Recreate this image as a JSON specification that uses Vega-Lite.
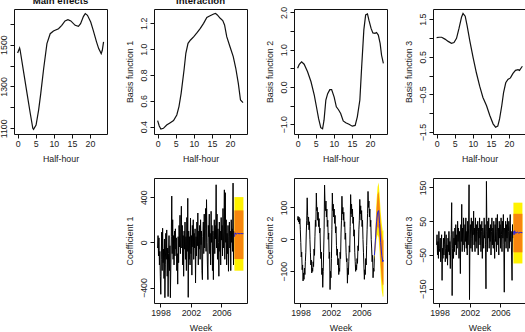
{
  "$schema": "https://vega.github.io/schema/vega-lite/v6.json",
  "background": "white",
  "padding": {"left": -1, "top": -5, "right": 0, "bottom": 0},
  "columns": 4,
  "spacing": {"column": 16, "row": 13},
  "datasets": {
    "main": [
      {"h": 0, "v": 1460}, {"h": 0.55, "v": 1484}, {"h": 0.7, "v": 1473}, {"h": 1.65, "v": 1370},
      {"h": 2.6, "v": 1267}, {"h": 3.5, "v": 1171}, {"h": 4.2, "v": 1100}, {"h": 4.4, "v": 1095},
      {"h": 5.1, "v": 1116}, {"h": 5.8, "v": 1187}, {"h": 6.4, "v": 1267}, {"h": 7.2, "v": 1386},
      {"h": 8.1, "v": 1505}, {"h": 9.0, "v": 1552}, {"h": 9.9, "v": 1565}, {"h": 11.3, "v": 1576},
      {"h": 12.2, "v": 1592}, {"h": 13.1, "v": 1613}, {"h": 13.9, "v": 1619}, {"h": 14.7, "v": 1613},
      {"h": 15.9, "v": 1592}, {"h": 16.8, "v": 1587}, {"h": 17.4, "v": 1600}, {"h": 18.2, "v": 1635},
      {"h": 18.7, "v": 1648}, {"h": 19.3, "v": 1640}, {"h": 20.2, "v": 1608}, {"h": 20.9, "v": 1568},
      {"h": 21.8, "v": 1513}, {"h": 22.4, "v": 1481}, {"h": 23.1, "v": 1457}, {"h": 23.4, "v": 1473},
      {"h": 23.75, "v": 1513}
    ],
    "basis1": [
      {"h": 0, "v": 0.447}, {"h": 0.45, "v": 0.405}, {"h": 0.9, "v": 0.382}, {"h": 1.6, "v": 0.387},
      {"h": 2.5, "v": 0.413}, {"h": 3.5, "v": 0.431}, {"h": 4.4, "v": 0.447}, {"h": 5.3, "v": 0.49},
      {"h": 5.9, "v": 0.555}, {"h": 6.5, "v": 0.658}, {"h": 7.3, "v": 0.839}, {"h": 7.8, "v": 0.968},
      {"h": 8.4, "v": 1.045}, {"h": 9.1, "v": 1.071}, {"h": 10.0, "v": 1.097}, {"h": 10.9, "v": 1.128},
      {"h": 11.8, "v": 1.161}, {"h": 12.7, "v": 1.2}, {"h": 13.6, "v": 1.246}, {"h": 14.5, "v": 1.259},
      {"h": 15.5, "v": 1.272}, {"h": 16.0, "v": 1.277}, {"h": 16.5, "v": 1.265}, {"h": 17.3, "v": 1.239},
      {"h": 18.0, "v": 1.221}, {"h": 18.5, "v": 1.187}, {"h": 19.1, "v": 1.097}, {"h": 20.0, "v": 1.019},
      {"h": 20.9, "v": 0.942}, {"h": 21.6, "v": 0.852}, {"h": 22.3, "v": 0.735}, {"h": 22.9, "v": 0.606},
      {"h": 23.6, "v": 0.586}
    ],
    "basis2": [
      {"h": 0, "v": 0.5}, {"h": 0.46, "v": 0.61}, {"h": 1.1, "v": 0.675}, {"h": 1.8, "v": 0.61},
      {"h": 2.75, "v": 0.41}, {"h": 3.7, "v": 0.14}, {"h": 4.6, "v": -0.22}, {"h": 5.2, "v": -0.53},
      {"h": 5.8, "v": -0.85}, {"h": 6.4, "v": -1.09}, {"h": 6.9, "v": -1.12}, {"h": 7.3, "v": -0.89},
      {"h": 7.8, "v": -0.35}, {"h": 8.3, "v": -0.18}, {"h": 8.9, "v": -0.07}, {"h": 9.4, "v": -0.07},
      {"h": 10.1, "v": -0.27}, {"h": 10.7, "v": -0.53}, {"h": 11.3, "v": -0.61}, {"h": 11.9, "v": -0.71},
      {"h": 12.6, "v": -0.91}, {"h": 13.3, "v": -0.96}, {"h": 14.2, "v": -1.0}, {"h": 15.1, "v": -1.05},
      {"h": 15.9, "v": -1.03}, {"h": 16.5, "v": -0.8}, {"h": 17.2, "v": -0.35}, {"h": 17.7, "v": 0.54},
      {"h": 18.3, "v": 1.53}, {"h": 18.8, "v": 1.93}, {"h": 19.3, "v": 1.96}, {"h": 19.7, "v": 1.79},
      {"h": 20.3, "v": 1.57}, {"h": 20.8, "v": 1.45}, {"h": 21.4, "v": 1.44}, {"h": 21.8, "v": 1.46},
      {"h": 22.3, "v": 1.39}, {"h": 22.8, "v": 1.17}, {"h": 23.2, "v": 0.85}, {"h": 23.7, "v": 0.63}
    ],
    "basis3": [
      {"h": 0, "v": 1.01}, {"h": 0.7, "v": 1.02}, {"h": 1.4, "v": 1.02}, {"h": 2.3, "v": 0.97},
      {"h": 3.2, "v": 0.91}, {"h": 4.1, "v": 0.86}, {"h": 4.8, "v": 0.88}, {"h": 5.5, "v": 0.99},
      {"h": 6.2, "v": 1.26}, {"h": 6.9, "v": 1.56}, {"h": 7.3, "v": 1.65}, {"h": 7.9, "v": 1.58},
      {"h": 8.4, "v": 1.34}, {"h": 9.2, "v": 0.91}, {"h": 10.1, "v": 0.47}, {"h": 11.0, "v": 0.07},
      {"h": 11.9, "v": -0.28}, {"h": 12.8, "v": -0.58}, {"h": 13.8, "v": -0.8}, {"h": 14.7, "v": -1.06},
      {"h": 15.6, "v": -1.28}, {"h": 16.3, "v": -1.37}, {"h": 16.9, "v": -1.34}, {"h": 17.4, "v": -1.15},
      {"h": 18.0, "v": -0.8}, {"h": 18.5, "v": -0.45}, {"h": 19.1, "v": -0.19}, {"h": 19.7, "v": -0.1},
      {"h": 20.4, "v": -0.06}, {"h": 21.1, "v": 0.06}, {"h": 21.8, "v": 0.14}, {"h": 22.5, "v": 0.16},
      {"h": 22.9, "v": 0.14}, {"h": 23.4, "v": 0.21}, {"h": 23.7, "v": 0.25}
    ],
    "series": [
      {"t": 1997.62, "a": -50, "b": 60, "c": -20},
      {"t": 1997.68, "a": 60, "b": 72, "c": 10},
      {"t": 1997.74, "a": -120, "b": 55, "c": -50},
      {"t": 1997.80, "a": 40, "b": 70, "c": -10},
      {"t": 1997.86, "a": -200, "b": 48, "c": -60},
      {"t": 1997.92, "a": -80, "b": 65, "c": 20},
      {"t": 1997.98, "a": -300, "b": 30, "c": -30},
      {"t": 1998.04, "a": -460, "b": -10, "c": -40},
      {"t": 1998.10, "a": -150, "b": -55, "c": 0},
      {"t": 1998.16, "a": 90, "b": -40, "c": -70},
      {"t": 1998.22, "a": -250, "b": -95, "c": -20},
      {"t": 1998.28, "a": 125, "b": -80, "c": 10},
      {"t": 1998.34, "a": -180, "b": -130, "c": -125},
      {"t": 1998.40, "a": -60, "b": -105, "c": -30},
      {"t": 1998.46, "a": -320, "b": -125, "c": -60},
      {"t": 1998.52, "a": 30, "b": -90, "c": 0},
      {"t": 1998.58, "a": -490, "b": -110, "c": -50},
      {"t": 1998.64, "a": -200, "b": -70, "c": -20},
      {"t": 1998.70, "a": 80, "b": -40, "c": 20},
      {"t": 1998.76, "a": -150, "b": 20, "c": -70},
      {"t": 1998.82, "a": 110, "b": 60, "c": -30},
      {"t": 1998.88, "a": -300, "b": 130, "c": 10},
      {"t": 1998.94, "a": -50, "b": 75, "c": -60},
      {"t": 1999.00, "a": -480, "b": 45, "c": -20},
      {"t": 1999.06, "a": -100, "b": 70, "c": -80},
      {"t": 1999.12, "a": 60, "b": 30, "c": 0},
      {"t": 1999.18, "a": -250, "b": 55, "c": -40},
      {"t": 1999.24, "a": -30, "b": 0, "c": 20},
      {"t": 1999.30, "a": -490, "b": -40, "c": -50},
      {"t": 1999.36, "a": -200, "b": -80, "c": -10},
      {"t": 1999.42, "a": 50, "b": -65, "c": -90},
      {"t": 1999.48, "a": 410, "b": -105, "c": -20},
      {"t": 1999.54, "a": -100, "b": -90, "c": 10},
      {"t": 1999.60, "a": 200, "b": -100, "c": 105},
      {"t": 1999.66, "a": -150, "b": -70, "c": -170},
      {"t": 1999.72, "a": 60, "b": -85, "c": -30},
      {"t": 1999.78, "a": -200, "b": -30, "c": 20},
      {"t": 1999.84, "a": 100, "b": -50, "c": -60},
      {"t": 1999.90, "a": -120, "b": 10, "c": 0},
      {"t": 1999.96, "a": 120, "b": 60, "c": -40},
      {"t": 2000.02, "a": -60, "b": 40, "c": 30},
      {"t": 2000.08, "a": 40, "b": 145, "c": -20},
      {"t": 2000.14, "a": -250, "b": 90, "c": 40},
      {"t": 2000.20, "a": -100, "b": 100, "c": -50},
      {"t": 2000.26, "a": -370, "b": 60, "c": 10},
      {"t": 2000.32, "a": 50, "b": 85, "c": -30},
      {"t": 2000.38, "a": -180, "b": 40, "c": 50},
      {"t": 2000.44, "a": 150, "b": 65, "c": -10},
      {"t": 2000.50, "a": -40, "b": 20, "c": 30},
      {"t": 2000.56, "a": 240, "b": 35, "c": -60},
      {"t": 2000.62, "a": -100, "b": -30, "c": 20},
      {"t": 2000.68, "a": 120, "b": -60, "c": -20},
      {"t": 2000.74, "a": 320, "b": -40, "c": -105},
      {"t": 2000.80, "a": -50, "b": -110, "c": 40},
      {"t": 2000.86, "a": 150, "b": -90, "c": -10},
      {"t": 2000.92, "a": -200, "b": -150, "c": 100},
      {"t": 2000.98, "a": 60, "b": -100, "c": -40},
      {"t": 2001.04, "a": -300, "b": -40, "c": 30},
      {"t": 2001.10, "a": 100, "b": 30, "c": -20},
      {"t": 2001.16, "a": -60, "b": 170, "c": 60},
      {"t": 2001.22, "a": 180, "b": 110, "c": 0},
      {"t": 2001.28, "a": -150, "b": 90, "c": -40},
      {"t": 2001.34, "a": 50, "b": 120, "c": 40},
      {"t": 2001.40, "a": -250, "b": 70, "c": -10},
      {"t": 2001.46, "a": 220, "b": 95, "c": 60},
      {"t": 2001.52, "a": -80, "b": 40, "c": -30},
      {"t": 2001.58, "a": 390, "b": 60, "c": 20},
      {"t": 2001.64, "a": -487, "b": 0, "c": -50},
      {"t": 2001.70, "a": 100, "b": 20, "c": 50},
      {"t": 2001.76, "a": -150, "b": -60, "c": -20},
      {"t": 2001.82, "a": 50, "b": -40, "c": 30},
      {"t": 2001.88, "a": -200, "b": -157, "c": 158},
      {"t": 2001.94, "a": 215, "b": -100, "c": -182},
      {"t": 2002.00, "a": -100, "b": -120, "c": 10},
      {"t": 2002.06, "a": 60, "b": -60, "c": 40},
      {"t": 2002.12, "a": -290, "b": 30, "c": -30},
      {"t": 2002.18, "a": 150, "b": 145, "c": 60},
      {"t": 2002.24, "a": -40, "b": 90, "c": 0},
      {"t": 2002.30, "a": 200, "b": 110, "c": -40},
      {"t": 2002.36, "a": -150, "b": 70, "c": 50},
      {"t": 2002.42, "a": 80, "b": 95, "c": 10},
      {"t": 2002.48, "a": -50, "b": 50, "c": 80},
      {"t": 2002.54, "a": 120, "b": 75, "c": -20},
      {"t": 2002.60, "a": -360, "b": 20, "c": 30},
      {"t": 2002.66, "a": 50, "b": 40, "c": -40},
      {"t": 2002.72, "a": -120, "b": -20, "c": 60},
      {"t": 2002.78, "a": 180, "b": -50, "c": -10},
      {"t": 2002.84, "a": -30, "b": -30, "c": 40},
      {"t": 2002.90, "a": 260, "b": -80, "c": -30},
      {"t": 2002.96, "a": -200, "b": -60, "c": 20},
      {"t": 2003.02, "a": 100, "b": -110, "c": 50},
      {"t": 2003.08, "a": -60, "b": -90, "c": -50},
      {"t": 2003.14, "a": 150, "b": -100, "c": 30},
      {"t": 2003.20, "a": -150, "b": -40, "c": 0},
      {"t": 2003.26, "a": 200, "b": -60, "c": 60},
      {"t": 2003.32, "a": -20, "b": 20, "c": -20},
      {"t": 2003.38, "a": 100, "b": 60, "c": 40},
      {"t": 2003.44, "a": -250, "b": 135, "c": -40},
      {"t": 2003.50, "a": -330, "b": 80, "c": 20},
      {"t": 2003.56, "a": 50, "b": 100, "c": 50},
      {"t": 2003.62, "a": 180, "b": 60, "c": -60},
      {"t": 2003.68, "a": -100, "b": 85, "c": 30},
      {"t": 2003.74, "a": 250, "b": 40, "c": 10},
      {"t": 2003.80, "a": -50, "b": 55, "c": -30},
      {"t": 2003.86, "a": 120, "b": 0, "c": 60},
      {"t": 2003.92, "a": 300, "b": 20, "c": 0},
      {"t": 2003.98, "a": -80, "b": -40, "c": 40},
      {"t": 2004.04, "a": 378, "b": -70, "c": -20},
      {"t": 2004.10, "a": 0, "b": -60, "c": -150},
      {"t": 2004.16, "a": -200, "b": -137, "c": 168},
      {"t": 2004.22, "a": -330, "b": -90, "c": 20},
      {"t": 2004.28, "a": 150, "b": -110, "c": -40},
      {"t": 2004.34, "a": 50, "b": -70, "c": 50},
      {"t": 2004.40, "a": 250, "b": -20, "c": 0},
      {"t": 2004.46, "a": -100, "b": -40, "c": 60},
      {"t": 2004.52, "a": 80, "b": 40, "c": -30},
      {"t": 2004.58, "a": -200, "b": 140, "c": 30},
      {"t": 2004.64, "a": 275, "b": 80, "c": -10},
      {"t": 2004.70, "a": 0, "b": 110, "c": 40},
      {"t": 2004.76, "a": 150, "b": 70, "c": -50},
      {"t": 2004.82, "a": -250, "b": 95, "c": 20},
      {"t": 2004.88, "a": 100, "b": 50, "c": 60},
      {"t": 2004.94, "a": -330, "b": 70, "c": -20},
      {"t": 2005.00, "a": 60, "b": 10, "c": 30},
      {"t": 2005.06, "a": 200, "b": 30, "c": -30},
      {"t": 2005.12, "a": -100, "b": -40, "c": 50},
      {"t": 2005.18, "a": 150, "b": -70, "c": 0},
      {"t": 2005.24, "a": 30, "b": -100, "c": -60},
      {"t": 2005.30, "a": 510, "b": -80, "c": 40},
      {"t": 2005.36, "a": -50, "b": -95, "c": -10},
      {"t": 2005.42, "a": 250, "b": -60, "c": 60},
      {"t": 2005.48, "a": -150, "b": -75, "c": -40},
      {"t": 2005.54, "a": 120, "b": -20, "c": 20},
      {"t": 2005.60, "a": 0, "b": -35, "c": 70},
      {"t": 2005.66, "a": -300, "b": 30, "c": -20},
      {"t": 2005.72, "a": 180, "b": 60, "c": 30},
      {"t": 2005.78, "a": -80, "b": 125, "c": -50},
      {"t": 2005.84, "a": 100, "b": 80, "c": 50},
      {"t": 2005.90, "a": -200, "b": 105, "c": 0},
      {"t": 2005.96, "a": 220, "b": 60, "c": 40},
      {"t": 2006.02, "a": 20, "b": 90, "c": -30},
      {"t": 2006.08, "a": 150, "b": 40, "c": 60},
      {"t": 2006.14, "a": -120, "b": 60, "c": 10},
      {"t": 2006.20, "a": 300, "b": 0, "c": -40},
      {"t": 2006.26, "a": -50, "b": -40, "c": 50},
      {"t": 2006.32, "a": 100, "b": -80, "c": 0},
      {"t": 2006.38, "a": 465, "b": -125, "c": 70},
      {"t": 2006.44, "a": -150, "b": -95, "c": -20},
      {"t": 2006.50, "a": 440, "b": -110, "c": -160},
      {"t": 2006.56, "a": 0, "b": -60, "c": 30},
      {"t": 2006.62, "a": 200, "b": -80, "c": -10},
      {"t": 2006.68, "a": -200, "b": -20, "c": 50},
      {"t": 2006.74, "a": 80, "b": 30, "c": -30},
      {"t": 2006.80, "a": -100, "b": 80, "c": 40},
      {"t": 2006.86, "a": 150, "b": 150, "c": 0},
      {"t": 2006.92, "a": -256, "b": 100, "c": 60},
      {"t": 2006.98, "a": 50, "b": 120, "c": -40},
      {"t": 2007.04, "a": 180, "b": 70, "c": 20},
      {"t": 2007.10, "a": -50, "b": 95, "c": 50},
      {"t": 2007.16, "a": 100, "b": 40, "c": -30},
      {"t": 2007.22, "a": -250, "b": 60, "c": 30},
      {"t": 2007.28, "a": 200, "b": 0, "c": 70},
      {"t": 2007.34, "a": 0, "b": -30, "c": -10},
      {"t": 2007.40, "a": 120, "b": -70, "c": 20},
      {"t": 2007.46, "a": -80, "b": -50, "c": -50},
      {"t": 2007.52, "a": 525, "b": -120, "c": -125},
      {"t": 2007.58, "a": -200, "b": -90, "c": 40},
      {"t": 2007.64, "a": 100, "b": -100, "c": 0},
      {"t": 2007.70, "a": 50, "b": -50, "c": 20}
    ],
    "fc1": [
      {"t": 2007.70, "m": 50, "l80": -148, "u80": 283, "l95": -251, "u95": 401},
      {"t": 2007.78, "m": 85, "l80": -148, "u80": 283, "l95": -251, "u95": 401},
      {"t": 2007.90, "m": 72, "l80": -148, "u80": 283, "l95": -251, "u95": 401},
      {"t": 2008.10, "m": 80, "l80": -148, "u80": 283, "l95": -251, "u95": 401},
      {"t": 2008.30, "m": 76, "l80": -148, "u80": 283, "l95": -251, "u95": 401},
      {"t": 2008.50, "m": 78, "l80": -148, "u80": 283, "l95": -251, "u95": 401},
      {"t": 2008.70, "m": 77, "l80": -148, "u80": 283, "l95": -251, "u95": 401},
      {"t": 2008.88, "m": 77, "l80": -148, "u80": 283, "l95": -251, "u95": 401}
    ],
    "fc2": [
      {"t": 2007.70, "m": -50, "l80": -58, "u80": -42, "l95": -64, "u95": -36},
      {"t": 2007.85, "m": 5, "l80": -20, "u80": 30, "l95": -35, "u95": 45},
      {"t": 2007.98, "m": 55, "l80": 20, "u80": 95, "l95": 0, "u95": 120},
      {"t": 2008.12, "m": 85, "l80": 40, "u80": 140, "l95": 15, "u95": 165},
      {"t": 2008.25, "m": 90, "l80": 35, "u80": 150, "l95": 5, "u95": 178},
      {"t": 2008.38, "m": 50, "l80": -10, "u80": 110, "l95": -40, "u95": 140},
      {"t": 2008.52, "m": -10, "l80": -80, "u80": 50, "l95": -115, "u95": 85},
      {"t": 2008.66, "m": -50, "l80": -125, "u80": 20, "l95": -160, "u95": 50},
      {"t": 2008.80, "m": -70, "l80": -145, "u80": -5, "l95": -180, "u95": 25},
      {"t": 2008.88, "m": -65, "l80": -140, "u80": 0, "l95": -178, "u95": 30}
    ],
    "fc3": [
      {"t": 2007.70, "m": 20, "l80": -42, "u80": 72, "l95": -75, "u95": 105},
      {"t": 2007.78, "m": 10, "l80": -42, "u80": 72, "l95": -75, "u95": 105},
      {"t": 2007.86, "m": 22, "l80": -42, "u80": 72, "l95": -75, "u95": 105},
      {"t": 2008.00, "m": 14, "l80": -42, "u80": 72, "l95": -75, "u95": 105},
      {"t": 2008.20, "m": 18, "l80": -42, "u80": 72, "l95": -75, "u95": 105},
      {"t": 2008.40, "m": 15, "l80": -42, "u80": 72, "l95": -75, "u95": 105},
      {"t": 2008.60, "m": 17, "l80": -42, "u80": 72, "l95": -75, "u95": 105},
      {"t": 2008.88, "m": 16, "l80": -42, "u80": 72, "l95": -75, "u95": 105}
    ]
  },
  "concat": [
    {
      "width": 93, "height": 125,
      "title": "Main effects",
      "data": {"name": "main"},
      "mark": {"type": "line", "color": "#111", "strokeWidth": 1.2},
      "encoding": {
        "x": {"field": "h", "type": "quantitative", "title": "Half-hour",
              "scale": {"domain": [-1, 24.7], "nice": false, "zero": false},
              "axis": {"values": [0, 5, 10, 15, 20]}},
        "y": {"field": "v", "type": "quantitative", "title": null,
              "scale": {"domain": [1073, 1670], "nice": false, "zero": false},
              "axis": {"values": [1100, 1200, 1300, 1400, 1500, 1600],
                       "labelExpr": "(datum.value - 1100) % 200 == 0 ? '' + datum.value : ''"}}
      }
    },
    {
      "width": 93, "height": 125,
      "title": "Interaction",
      "data": {"name": "basis1"},
      "mark": {"type": "line", "color": "#111", "strokeWidth": 1.2},
      "encoding": {
        "x": {"field": "h", "type": "quantitative", "title": "Half-hour",
              "scale": {"domain": [-1, 24.7], "nice": false, "zero": false},
              "axis": {"values": [0, 5, 10, 15, 20]}},
        "y": {"field": "v", "type": "quantitative", "title": "Basis function 1",
              "scale": {"domain": [0.343, 1.311], "nice": false, "zero": false},
              "axis": {"values": [0.4, 0.6, 0.8, 1.0, 1.2], "labelExpr": "format(datum.value, '.1f')"}}
      }
    },
    {
      "width": 93, "height": 125,
      "data": {"name": "basis2"},
      "mark": {"type": "line", "color": "#111", "strokeWidth": 1.2},
      "encoding": {
        "x": {"field": "h", "type": "quantitative", "title": "Half-hour",
              "scale": {"domain": [-1, 24.7], "nice": false, "zero": false},
              "axis": {"values": [0, 5, 10, 15, 20]}},
        "y": {"field": "v", "type": "quantitative", "title": "Basis function 2",
              "scale": {"domain": [-1.26, 2.09], "nice": false, "zero": false},
              "axis": {"values": [-1, -0.5, 0, 0.5, 1, 1.5, 2],
                       "labelExpr": "datum.value % 1 == 0 ? format(datum.value, '.1f') : ''"}}
      }
    },
    {
      "width": 93, "height": 125,
      "data": {"name": "basis3"},
      "mark": {"type": "line", "color": "#111", "strokeWidth": 1.2},
      "encoding": {
        "x": {"field": "h", "type": "quantitative", "title": "Half-hour",
              "scale": {"domain": [-1, 24.7], "nice": false, "zero": false},
              "axis": {"values": [0, 5, 10, 15, 20]}},
        "y": {"field": "v", "type": "quantitative", "title": "Basis function 3",
              "scale": {"domain": [-1.55, 1.77], "nice": false, "zero": false},
              "axis": {"values": [-1.5, -1, -0.5, 0, 0.5, 1, 1.5],
                       "labelExpr": "abs(datum.value) % 1 == 0.5 ? format(datum.value, '.1f') : ''"}}
      }
    },
    {
      "width": 93, "height": 125,
      "view": {"stroke": null},
      "data": {"values": [{"t": 0}]},
      "mark": {"type": "point", "opacity": 0},
      "encoding": {}
    },
    {
      "width": 93, "height": 125,
      "layer": [
        {
          "data": {"name": "series"},
          "mark": {"type": "line", "color": "#000", "strokeWidth": 1},
          "encoding": {
            "x": {"field": "t", "type": "quantitative", "title": "Week",
                  "scale": {"domain": [1997.15, 2009.35], "nice": false, "zero": false},
                  "axis": {"values": [1998, 2000, 2002, 2004, 2006, 2008],
                           "labelExpr": "datum.value % 4 == 2 ? '' + datum.value : ''"}},
            "y": {"field": "a", "type": "quantitative", "title": "Coefficient 1",
                  "scale": {"domain": [-537, 570], "nice": false, "zero": false},
                  "axis": {"values": [-400, -200, 0, 200, 400],
                           "labelExpr": "datum.value == -200 ? '' : format(datum.value, 'd')"}}
          }
        },
        {
          "data": {"name": "fc1"},
          "mark": {"type": "area", "color": "#FFF200", "opacity": 1},
          "encoding": {
            "x": {"field": "t", "type": "quantitative", "title": "Week"},
            "y": {"field": "l95", "type": "quantitative", "title": "Coefficient 1"},
            "y2": {"field": "u95"}
          }
        },
        {
          "data": {"name": "fc1"},
          "mark": {"type": "area", "color": "#F7860E", "opacity": 1},
          "encoding": {
            "x": {"field": "t", "type": "quantitative", "title": "Week"},
            "y": {"field": "l80", "type": "quantitative", "title": "Coefficient 1"},
            "y2": {"field": "u80"}
          }
        },
        {
          "data": {"name": "fc1"},
          "mark": {"type": "line", "color": "#2222DD", "strokeWidth": 1},
          "encoding": {
            "x": {"field": "t", "type": "quantitative", "title": "Week"},
            "y": {"field": "m", "type": "quantitative", "title": "Coefficient 1"}
          }
        }
      ]
    },
    {
      "width": 93, "height": 125,
      "layer": [
        {
          "data": {"name": "series"},
          "mark": {"type": "line", "color": "#000", "strokeWidth": 1},
          "encoding": {
            "x": {"field": "t", "type": "quantitative", "title": "Week",
                  "scale": {"domain": [1997.15, 2009.35], "nice": false, "zero": false},
                  "axis": {"values": [1998, 2000, 2002, 2004, 2006, 2008],
                           "labelExpr": "datum.value % 4 == 2 ? '' + datum.value : ''"}},
            "y": {"field": "b", "type": "quantitative", "title": "Coefficient 2",
                  "scale": {"domain": [-199, 192], "nice": false, "zero": false},
                  "axis": {"values": [-100, 0, 100], "labelExpr": "format(datum.value, 'd')"}}
          }
        },
        {
          "data": {"name": "fc2"},
          "mark": {"type": "area", "color": "#FFF200", "opacity": 1},
          "encoding": {
            "x": {"field": "t", "type": "quantitative", "title": "Week"},
            "y": {"field": "l95", "type": "quantitative", "title": "Coefficient 2"},
            "y2": {"field": "u95"}
          }
        },
        {
          "data": {"name": "fc2"},
          "mark": {"type": "area", "color": "#F7860E", "opacity": 1},
          "encoding": {
            "x": {"field": "t", "type": "quantitative", "title": "Week"},
            "y": {"field": "l80", "type": "quantitative", "title": "Coefficient 2"},
            "y2": {"field": "u80"}
          }
        },
        {
          "data": {"name": "fc2"},
          "mark": {"type": "line", "color": "#2222DD", "strokeWidth": 1},
          "encoding": {
            "x": {"field": "t", "type": "quantitative", "title": "Week"},
            "y": {"field": "m", "type": "quantitative", "title": "Coefficient 2"}
          }
        }
      ]
    },
    {
      "width": 93, "height": 125,
      "layer": [
        {
          "data": {"name": "series"},
          "mark": {"type": "line", "color": "#000", "strokeWidth": 1},
          "encoding": {
            "x": {"field": "t", "type": "quantitative", "title": "Week",
                  "scale": {"domain": [1997.15, 2009.35], "nice": false, "zero": false},
                  "axis": {"values": [1998, 2000, 2002, 2004, 2006, 2008],
                           "labelExpr": "datum.value % 4 == 2 ? '' + datum.value : ''"}},
            "y": {"field": "c", "type": "quantitative", "title": "Coefficient 3",
                  "scale": {"domain": [-192, 178], "nice": false, "zero": false},
                  "axis": {"values": [-150, -100, -50, 0, 50, 100, 150],
                           "labelExpr": "abs(datum.value) == 100 ? '' : format(datum.value, 'd')"}}
          }
        },
        {
          "data": {"name": "fc3"},
          "mark": {"type": "area", "color": "#FFF200", "opacity": 1},
          "encoding": {
            "x": {"field": "t", "type": "quantitative", "title": "Week"},
            "y": {"field": "l95", "type": "quantitative", "title": "Coefficient 3"},
            "y2": {"field": "u95"}
          }
        },
        {
          "data": {"name": "fc3"},
          "mark": {"type": "area", "color": "#F7860E", "opacity": 1},
          "encoding": {
            "x": {"field": "t", "type": "quantitative", "title": "Week"},
            "y": {"field": "l80", "type": "quantitative", "title": "Coefficient 3"},
            "y2": {"field": "u80"}
          }
        },
        {
          "data": {"name": "fc3"},
          "mark": {"type": "line", "color": "#2222DD", "strokeWidth": 1},
          "encoding": {
            "x": {"field": "t", "type": "quantitative", "title": "Week"},
            "y": {"field": "m", "type": "quantitative", "title": "Coefficient 3"}
          }
        }
      ]
    }
  ],
  "config": {
    "font": "Liberation Sans",
    "view": {"stroke": "#111", "strokeWidth": 1},
    "title": {"font": "Liberation Sans", "fontSize": 9.6, "fontWeight": "bold", "color": "#111", "offset": 3, "anchor": "middle"},
    "axis": {
      "domain": false, "grid": false, "ticks": true,
      "tickColor": "#111", "tickSize": 4, "tickWidth": 1,
      "labelFont": "Liberation Sans", "labelFontSize": 8.8, "labelColor": "#222",
      "labelPadding": 1.5, "labelFlush": false, "labelOverlap": false,
      "titleFont": "Liberation Sans", "titleFontSize": 8.8, "titleFontWeight": "normal", "titleColor": "#222"
    },
    "axisX": {"titlePadding": 6},
    "axisY": {"labelAngle": -90, "labelAlign": "center", "labelBaseline": "bottom", "titlePadding": 5}
  }
}
